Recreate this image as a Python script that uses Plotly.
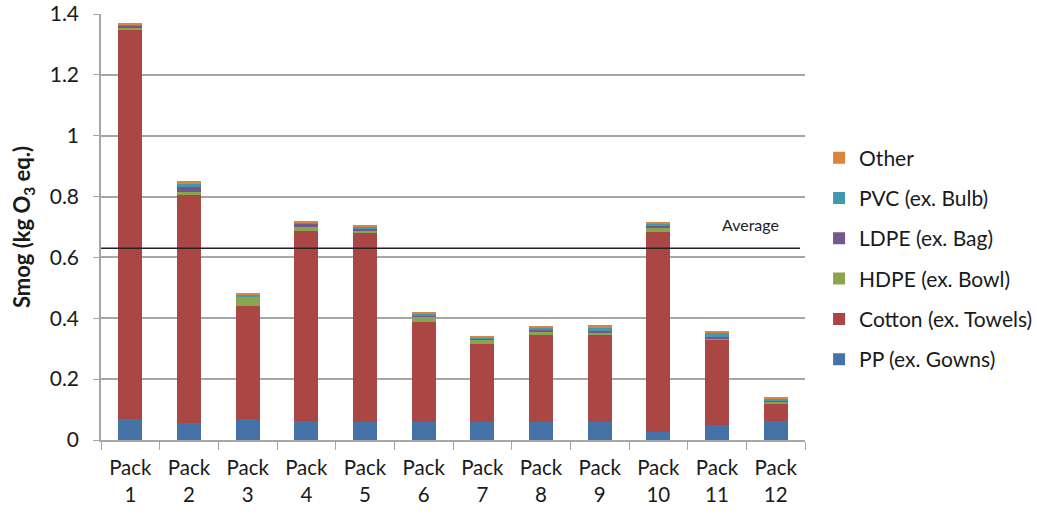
import plotly.graph_objects as go

packs = [f"Pack<br>{i}" for i in range(1, 13)]

pp = [0.069, 0.055, 0.069, 0.064, 0.059, 0.059, 0.060, 0.059, 0.059, 0.027, 0.049, 0.064]
cotton = [1.278, 0.751, 0.371, 0.623, 0.620, 0.328, 0.256, 0.286, 0.286, 0.656, 0.280, 0.056]
hdpe = [0.008, 0.010, 0.031, 0.014, 0.011, 0.018, 0.015, 0.013, 0.008, 0.013, 0.006, 0.006]
ldpe = [0.004, 0.017, 0.002, 0.011, 0.006, 0.004, 0.003, 0.005, 0.006, 0.009, 0.004, 0.003]
pvc = [0.008, 0.011, 0.004, 0.004, 0.005, 0.004, 0.003, 0.004, 0.010, 0.005, 0.013, 0.006]
other = [0.005, 0.006, 0.005, 0.004, 0.004, 0.007, 0.006, 0.009, 0.009, 0.008, 0.007, 0.005]

average = 0.63

series = [
    ("PP (ex. Gowns)", pp, "#4572A7"),
    ("Cotton (ex. Towels)", cotton, "#AA4643"),
    ("HDPE (ex. Bowl)", hdpe, "#89A54E"),
    ("LDPE (ex. Bag)", ldpe, "#71588F"),
    ("PVC (ex. Bulb)", pvc, "#4198AF"),
    ("Other", other, "#DB843D"),
]

FONT = "Lato, 'Open Sans', sans-serif"

fig = go.Figure()
for i, (name, vals, color) in enumerate(series):
    # stacked bottom-up; legend lists the top segment first
    fig.add_trace(go.Bar(
        x=packs, y=vals, name=name, legendgroup=name,
        legendrank=1000 - i,
        marker=dict(color=color, line=dict(width=0)),
    ))

fig.add_shape(type="line", xref="paper", yref="y", x0=0, x1=0.993,
              y0=average, y1=average, line=dict(color="#222222", width=1.5))
fig.add_annotation(xref="paper", yref="y", x=0.922, y=average, yshift=24,
                   xanchor="center", yanchor="middle",
                   text="Average", showarrow=False,
                   font=dict(family=FONT, size=16, color="#222222"))

fig.update_layout(
    width=1037, height=514,
    margin=dict(l=101, r=232, t=14, b=74, autoexpand=False),
    paper_bgcolor="white", plot_bgcolor="white",
    barmode="stack", bargap=0.59,
    font=dict(family=FONT, size=20, color="#1a1a1a"),
    legend=dict(x=1.02, y=0.71, xanchor="left", yanchor="top",
                traceorder="grouped", tracegroupgap=10,
                font=dict(family=FONT, size=21)),
    yaxis=dict(range=[0, 1.4], dtick=0.2, showgrid=True,
               gridcolor="#A6A6A6", gridwidth=1.5,
               showline=True, linecolor="#A6A6A6", linewidth=1.5,
               ticks="outside", ticklen=6, tickcolor="#A6A6A6",
               ticklabelstandoff=10, automargin=False,
               tickfont=dict(size=21),
               zeroline=False,
               title=dict(text="<b>Smog (kg O<sub>3</sub> eq.)</b>",
                          font=dict(family=FONT, size=22), standoff=13)),
    xaxis=dict(showline=True, linecolor="#A6A6A6", linewidth=1.5,
               ticks="outside", ticklen=8, tickcolor="#A6A6A6",
               tickson="boundaries", showgrid=False,
               tickfont=dict(size=20.5),
               ticklabelstandoff=9, automargin=False),
)

fig.write_html("out.html")
